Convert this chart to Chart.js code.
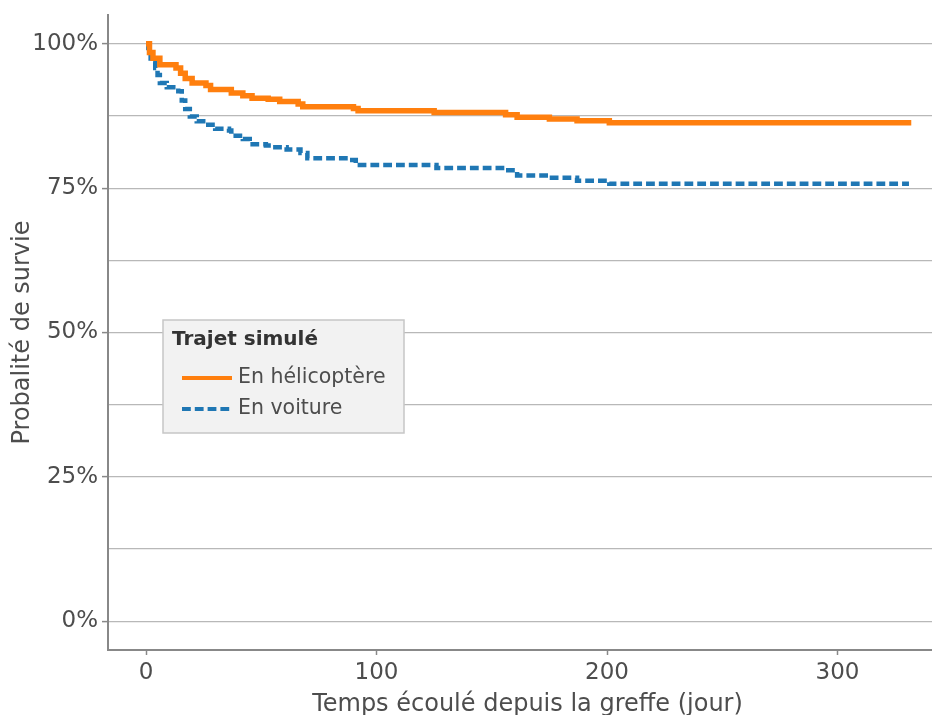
<!DOCTYPE html>
<html lang="fr">
<head>
<meta charset="utf-8">
<script src="https://cdn.jsdelivr.net/npm/chart.js@4.4.1/dist/chart.umd.min.js"></script>
<style>
  html, body { margin: 0; padding: 0; background: #fff; overflow: hidden; }
  #wrap { width: 962px; height: 735px; }
</style>
</head>
<body>
<div id="wrap"><canvas id="survie" width="962" height="735"></canvas></div>
<script>
// Courbes de survie (Kaplan-Meier)
const helicoJours  = [0, 1.5, 3, 6, 13, 15, 17, 20, 26, 28, 37, 42, 46, 53, 58, 66, 68, 90, 92, 125, 156, 161, 175, 187, 201, 332];
const helicoSurvie = [100, 98.5, 97.5, 96.4, 95.8, 94.9, 94.0, 93.2, 92.8, 92.1, 91.5, 91.0, 90.6, 90.4, 90.0, 89.6, 89.1, 88.8, 88.4, 88.1, 87.7, 87.3, 87.0, 86.7, 86.35, 86.35];

const voitureJours  = [0, 1, 2, 4, 5, 6, 9, 14, 15.5, 17, 19, 22, 26, 30, 36, 37, 42, 45, 52, 55, 61, 67, 70, 88, 91, 126, 156, 161, 175, 187, 201, 331];
const voitureSurvie = [100, 98.5, 96.8, 95.8, 94.6, 93.2, 92.5, 91.8, 90.2, 88.7, 87.4, 86.6, 86.0, 85.3, 85.0, 84.1, 83.5, 82.6, 82.4, 82.1, 81.7, 81.1, 80.2, 79.9, 79.0, 78.5, 78.1, 77.2, 76.8, 76.3, 75.75, 75.75];

const seriesNoms = ['En hélicoptère', 'En voiture'];
const legendeTitre = 'Trajet simulé';

const xTicks = [0, 100, 200, 300];
const yTicks = [0, 12.5, 25, 37.5, 50, 62.5, 75, 87.5, 100]; // les x.5 = grilles mineures

const ORANGE = '#ff7f0e';
const BLEU = '#1f77b4';
const TEXTE = '#4d4d4d';
const FONT = "'DejaVu Sans', sans-serif";

const pts = (xs, ys) => xs.map((x, i) => ({ x: x, y: ys[i] }));
const estMajeur = v => v % 25 === 0;

// légende dessinée dans la zone du graphique
const legendeInterne = {
  id: 'legendeInterne',
  afterDraw(chart) {
    const { ctx, chartArea } = chart;
    const x0 = chartArea.left + 55, y0 = chartArea.top + 305;
    ctx.save();
    ctx.fillStyle = '#f2f2f2';
    ctx.strokeStyle = '#c6c6c6';
    ctx.lineWidth = 1.5;
    ctx.fillRect(x0, y0, 241, 113);
    ctx.strokeRect(x0, y0, 241, 113);

    ctx.fillStyle = '#333';
    ctx.font = "bold 20px " + FONT;
    ctx.textBaseline = 'middle';
    ctx.fillText(legendeTitre, x0 + 9, y0 + 20);

    const couleurs = [ORANGE, BLEU];
    const tirets = [[], [8.8, 4]];
    seriesNoms.forEach((nom, i) => {
      const y = y0 + 58 + i * 31;
      ctx.beginPath();
      ctx.strokeStyle = couleurs[i];
      ctx.lineWidth = 4;
      ctx.setLineDash(tirets[i]);
      ctx.moveTo(x0 + 19, y);
      ctx.lineTo(x0 + 69, y);
      ctx.stroke();
      ctx.setLineDash([]);
      ctx.fillStyle = TEXTE;
      ctx.font = "20.5px " + FONT;
      ctx.fillText(nom, x0 + 75, y);
    });
    ctx.restore();
  }
};

new Chart(document.getElementById('survie'), {
  type: 'line',
  data: {
    datasets: [
      {
        label: seriesNoms[0],
        data: pts(helicoJours, helicoSurvie),
        borderColor: ORANGE,
        borderWidth: 5.5,
        stepped: true,
        pointRadius: 0
      },
      {
        label: seriesNoms[1],
        data: pts(voitureJours, voitureSurvie),
        borderColor: BLEU,
        borderWidth: 4.5,
        borderDash: [8.8, 4],
        stepped: true,
        pointRadius: 0
      }
    ]
  },
  options: {
    responsive: false,
    animation: false,
    layout: { padding: { top: 15, right: 15, left: 0, bottom: 0 } },
    plugins: {
      legend: { display: false },
      tooltip: { enabled: false }
    },
    scales: {
      x: {
        type: 'linear',
        min: -16.5,
        max: 347.5,
        afterBuildTicks: s => { s.ticks = xTicks.map(v => ({ value: v })); },
        afterFit: s => { s.height = 85; s.paddingLeft = 0; s.paddingRight = 0; },
        grid: { drawOnChartArea: false, tickLength: 5, tickColor: '#888', tickWidth: 1.5 },
        border: { color: '#888', width: 2 },
        ticks: { color: TEXTE, font: { family: FONT, size: 23 }, padding: 4, maxRotation: 0 },
        title: {
          display: true,
          text: 'Temps écoulé depuis la greffe (jour)',
          color: TEXTE,
          font: { family: FONT, size: 24 },
          padding: { top: 0, bottom: 16 }
        }
      },
      y: {
        min: -5,
        max: 105,
        afterBuildTicks: s => { s.ticks = yTicks.map(v => ({ value: v })); },
        afterFit: s => { s.width = 108; s.paddingTop = 0; s.paddingBottom = 0; },
        grid: {
          color: '#b8b8b8',
          lineWidth: 1.2,
          tickLength: 6,
          tickColor: c => estMajeur(c.tick.value) ? '#888' : 'rgba(0,0,0,0)',
          tickWidth: 1.5
        },
        border: { color: '#888', width: 2 },
        ticks: {
          color: TEXTE,
          font: { family: FONT, size: 23 },
          padding: 4,
          callback: v => estMajeur(v) ? v + '%' : ''
        },
        title: {
          display: true,
          text: 'Probalité de survie',
          color: TEXTE,
          font: { family: FONT, size: 24 },
          padding: { top: 8, bottom: 0 }
        }
      }
    }
  },
  plugins: [legendeInterne]
});
</script>
</body>
</html>
